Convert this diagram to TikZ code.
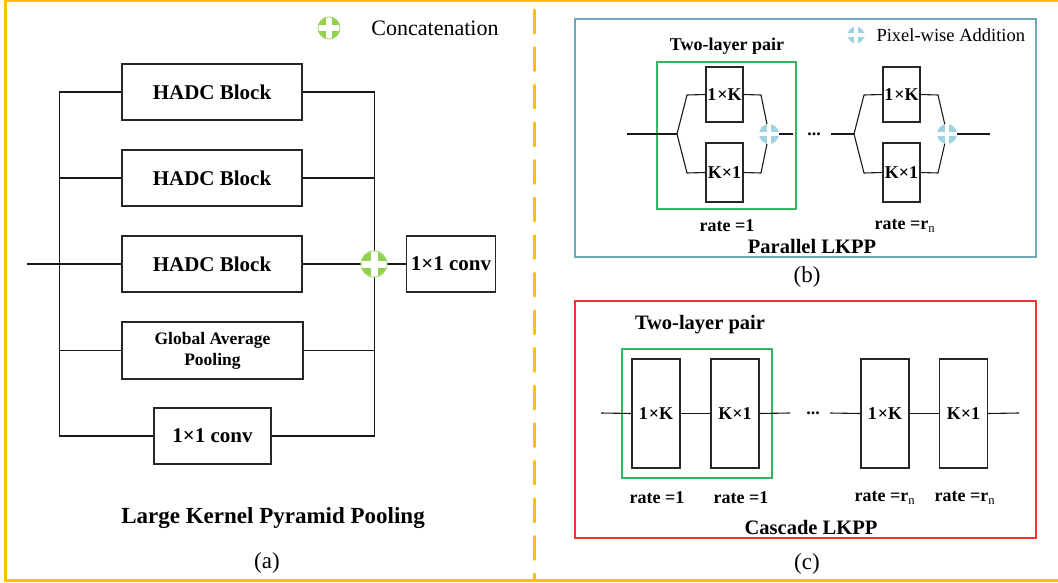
\documentclass[tikz,border=0pt]{standalone}
\usepackage{fontspec}
\setmainfont{Liberation Serif}
\definecolor{ygold}{RGB}{255,192,0}
\definecolor{cgreen}{RGB}{146,208,80}
\definecolor{cgreenl}{RGB}{170,220,120}
\definecolor{cblue}{RGB}{160,210,225}
\definecolor{bboxc}{RGB}{110,166,186}
\definecolor{gboxc}{RGB}{55,180,95}
\definecolor{rboxc}{RGB}{245,50,50}
\tikzset{
  blk/.style={draw=black!85, line width=1.1pt, fill=white, inner sep=0pt, align=center},
  bigbf/.style={font=\fontsize{21}{24}\selectfont\bfseries},
  midbf/.style={font=\fontsize{18}{21}\selectfont\bfseries},
  kbf/.style={font=\fontsize{18}{21}\selectfont\bfseries},
  ln/.style={line width=1.1pt, black!90},
  catc/.style={circle, fill=cgreen, draw=cgreenl, line width=0.6pt, inner sep=0pt},
  addc/.style={circle, fill=cblue, draw=cblue, line width=0.6pt, inner sep=0pt},
  capt/.style={font=\fontsize{23}{26}\selectfont},
  frame/.style={line width=1.2pt},
}
\newcommand{\plusin}[2]{%
  \draw[white, line width=#2] (#1.north) -- (#1.south);
  \draw[white, line width=#2] (#1.west) -- (#1.east);
}
\begin{document}
\begin{tikzpicture}[x=1pt,y=-1pt]
\useasboundingbox (0,0) rectangle (1058,583);
% outer frame
\draw[ygold, line width=3pt] (1060,1) -- (5.5,1) -- (5.5,580.5) -- (1060,580.5);
\draw[ygold, line width=3pt, line cap=round, dash pattern=on 23pt off 14.6pt] (534,10) -- (534,580);

% ---------- (a) ----------
\node[catc, minimum size=22pt] (lgc) at (329,28) {};
\plusin{lgc}{6pt}
\draw[cgreen, line width=0.6pt] (lgc) circle (11pt);
\node[capt, font=\fontsize{22}{26}\selectfont] (lgt) at (435,28) {Concatenation};

\node[blk, bigbf, minimum width=180pt, minimum height=56pt] (h1) at (212,92) {HADC Block};
\node[blk, bigbf, minimum width=180pt, minimum height=56pt] (h2) at (212,178) {HADC Block};
\node[blk, bigbf, minimum width=180pt, minimum height=56pt] (h3) at (212,264) {HADC Block};
\node[blk, minimum width=181pt, minimum height=57pt, font=\fontsize{17.5}{21}\selectfont\bfseries] (gap) at (212.5,350.5) {Global Average\\Pooling};
\node[blk, bigbf, minimum width=117pt, minimum height=56pt] (c1) at (212.5,436) {1×1 conv};
\coordinate (ain) at (27,264);
\node[catc, minimum size=26pt] (cat) at (374,264) {};
\node[blk, bigbf, minimum width=89pt, minimum height=56pt] (c2) at (451,264) {1×1 conv};

\draw[ln] (ain) -- (h3.west);
\draw[ln] (h1.west) -- ++(-62,0) |- (c1.west);
\draw[ln] (h2.west) -- ++(-62,0);
\draw[ln] (gap.west) -- ++(-62.5,0);
\draw[ln] (h1.east) -- ++(72,0) |- (c1.east);
\draw[ln] (h2.east) -- ++(72,0);
\draw[ln] (gap.east) -- ++(71,0);
\draw[ln] (h3.east) -- (cat);
\draw[ln] (cat) -- (c2.west);
\node[catc, minimum size=26pt] (cat2) at (374,264) {};
\plusin{cat2}{7pt}
\draw[cgreenl, line width=0.6pt] (cat2) circle (13pt);

\node[font=\fontsize{23}{26}\selectfont\bfseries] (ttla) at (273,518) {Large Kernel Pyramid Pooling};
\node[capt] (capa) at (267,563) {(a)};

% ---------- (b) ----------
\draw[bboxc, frame] (575,19) rectangle (1036,257);
\node[addc, minimum size=16pt] (lgb) at (856,35) {};
\plusin{lgb}{4pt}
\node[font=\fontsize{18.5}{22}\selectfont, anchor=west] (lgbt) at (873,35) {Pixel-wise Addition};
\node[midbf] (tlpb) at (727,46) {Two-layer pair};
\draw[gboxc, line width=1.2pt] (657,62) rectangle (796,209);

\node[blk, kbf, minimum width=37pt, minimum height=55pt] (p1a) at (724.5,94.5) {1\kern1pt×K};
\node[blk, kbf, minimum width=37pt, minimum height=59pt] (p1b) at (724.5,172.5) {K×1};
\node[addc, minimum size=19pt] (s1) at (769,134) {};
\coordinate (bin1) at (627,134);
\coordinate (f1) at (677,134);
\draw[ln] (bin1) -- (f1);
\draw[ln] (f1) -- (687,95) -- (p1a.west);
\draw[ln] (f1) -- (687,173) -- (p1b.west);
\draw[ln] (p1a.east) -- (761,95) -- (s1);
\draw[ln] (p1b.east) -- (761,173) -- (s1);
\coordinate (bout1) at (793,134);
\draw[ln] (s1) -- (bout1);
\node[addc, minimum size=19pt] (s1b) at (769,134) {};
\plusin{s1b}{4.5pt}

\node[font=\fontsize{18}{21}\selectfont\bfseries] (dotb) at (814,134) {...};

\node[blk, kbf, minimum width=37pt, minimum height=55pt] (p2a) at (901.5,94.5) {1\kern1pt×K};
\node[blk, kbf, minimum width=37pt, minimum height=59pt] (p2b) at (901.5,172.5) {K×1};
\node[addc, minimum size=19pt] (s2) at (947,134) {};
\coordinate (bin2) at (831,134);
\coordinate (f2) at (854,134);
\draw[ln] (bin2) -- (f2);
\draw[ln] (f2) -- (864,95) -- (p2a.west);
\draw[ln] (f2) -- (864,173) -- (p2b.west);
\draw[ln] (p2a.east) -- (938,95) -- (s2);
\draw[ln] (p2b.east) -- (938,173) -- (s2);
\coordinate (bout2) at (990,134);
\draw[ln] (s2) -- (bout2);
\node[addc, minimum size=19pt] (s2b) at (947,134) {};
\plusin{s2b}{4.5pt}

\node[midbf] (rb1) at (727,226) {rate =1};
\node[midbf] (rb2) at (905,226) {rate =r\textsubscript{\mdseries n}};
\node[font=\fontsize{20.5}{24}\selectfont\bfseries] (ttlb) at (812,246) {Parallel LKPP};
\node[capt] (capb) at (807,277) {(b)};

% ---------- (c) ----------
\draw[rboxc, frame] (575,301) rectangle (1036,538);
\node[font=\fontsize{20.5}{24}\selectfont\bfseries] (tlpc) at (700,325) {Two-layer pair};
\draw[gboxc, line width=1.2pt] (622,349) rectangle (772,478);
\node[blk, kbf, minimum width=48pt, minimum height=109pt] (q1) at (656,413.5) {1\kern1pt×K};
\node[blk, kbf, minimum width=48pt, minimum height=109pt] (q2) at (735,413.5) {K×1};
\node[blk, kbf, minimum width=48pt, minimum height=109pt] (q3) at (885,413.5) {1\kern1pt×K};
\node[blk, kbf, minimum width=48pt, minimum height=109pt] (q4) at (963.5,413.5) {K×1};
\coordinate (cin1) at (601,413);
\coordinate (cout1) at (790,413);
\coordinate (cin2) at (830,413);
\coordinate (cout2) at (1019,413);
\draw[ln] (cin1) -- (q1.west);
\draw[ln] (q1.east) -- (q2.west);
\draw[ln] (q2.east) -- (cout1);
\draw[ln] (cin2) -- (q3.west);
\draw[ln] (q3.east) -- (q4.west);
\draw[ln] (q4.east) -- (cout2);
\node[font=\fontsize{18}{21}\selectfont\bfseries] (dotc) at (813,413) {...};

\node[midbf] (rc1) at (657,498) {rate =1};
\node[midbf] (rc2) at (741,498) {rate =1};
\node[midbf] (rc3) at (885,498) {rate =r\textsubscript{\mdseries n}};
\node[midbf] (rc4) at (965,498) {rate =r\textsubscript{\mdseries n}};
\node[font=\fontsize{20.5}{24}\selectfont\bfseries] (ttlc) at (811,527) {Cascade LKPP};
\node[capt] (capc) at (807,564) {(c)};
\end{tikzpicture}
\end{document}
